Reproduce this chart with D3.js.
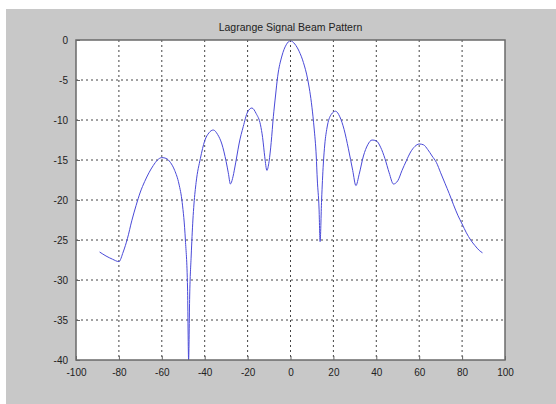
<!DOCTYPE html>
<html lang="en">
<head>
    <meta charset="UTF-8">
    <title>Lagrange Signal Beam Pattern</title>
    <style>
        body { margin: 0; background: #fff; }
        text { font-family: "Liberation Sans", Arial, sans-serif; }
    </style>
</head>
<body>
    <div id="my_dataviz"></div>
    <script src="https://d3js.org/d3.v7.min.js"></script>
    <script>
        // data: angle (deg) and beam level (dB)
        var angles = [-89, -86, -83, -80, -78, -76, -74, -72, -70, -68, -66, -64, -62, -60, -58, -56, -54, -52,
            -50.5, -49, -48, -47.5, -47, -46.3, -45.5, -45, -44, -42, -40, -38, -36, -34, -32, -30, -29, -28,
            -27, -26, -25, -24, -22, -20, -18, -16, -14, -13, -12, -11, -10, -9, -8, -7, -6, -4, -2, 0,
            2, 4, 6, 8, 10, 11, 12, 12.5, 13.3, 13.8, 14.5, 15.3, 16, 17, 19, 21, 23, 25, 27, 29, 30.5,
            32, 34, 36, 38, 40, 42, 44, 46, 48, 50, 52, 54, 56, 58, 60, 62, 64, 66, 68, 70, 72, 74,
            76, 78, 80, 82, 84, 86, 88, 89.5]
        var levels = [-26.5, -27.0, -27.4, -27.7, -26.5, -24.8, -22.6, -20.7, -19.0, -17.7, -16.6, -15.7, -15.0, -14.7, -14.8, -15.3, -16.3, -18.0,
            -20.3, -25, -31, -40, -32, -27, -22.5, -20.5, -17.8, -14.8, -12.6, -11.6, -11.25, -11.8, -13.0, -15.2, -16.6, -18.0,
            -17.3, -16.0, -14.5, -13.0, -10.8, -9.0, -8.5, -9.2, -10.6, -12.2, -14.6, -16.3, -15.2, -12.8, -9.6, -7.0, -4.6, -2.0, -0.6, -0.1,
            -0.5, -1.4, -2.8, -4.9, -8.4, -11.0, -14.5, -17.5, -21.0, -25.2, -20.0, -15.5, -13.0, -11.0, -9.3, -8.9, -9.6, -11.2, -13.6, -16.3, -18.2,
            -16.8, -14.5, -13.1, -12.5, -12.6, -13.4, -14.8, -16.6, -18.0, -17.6, -16.3, -15.1, -14.0, -13.3, -13.0, -13.1, -13.7, -14.5, -15.3, -16.6, -17.9, -19.2,
            -20.6, -21.9, -23.0, -24.1, -25.0, -25.7, -26.3, -26.6]
        var xTicks = [-100, -80, -60, -40, -20, 0, 20, 40, 60, 80, 100]
        var yTicks = [0, -5, -10, -15, -20, -25, -30, -35, -40]
        var title = "Lagrange Signal Beam Pattern"

        var W = 556, H = 404
        var margin = { top: 40, right: 51, bottom: 44, left: 76 },
            width = W - margin.left - margin.right,
            height = H - margin.top - margin.bottom;

        var root = d3.select("#my_dataviz")
            .append("svg")
            .attr("width", W)
            .attr("height", H)

        // grey figure background (white strip at top and left)
        root.append("rect").attr("x", 6).attr("y", 9).attr("width", W - 6).attr("height", H - 9)
            .attr("fill", "#c8c8c8")

        var svg = root.append("g")
            .attr("transform", "translate(" + margin.left + "," + margin.top + ")");

        var x = d3.scaleLinear().domain([-100, 100]).range([0, width]);
        var y = d3.scaleLinear().domain([-40, 0]).range([height, 0]);

        svg.append("rect").attr("width", width).attr("height", height).attr("fill", "#fff")

        // dotted grid
        svg.append("g").selectAll("line")
            .data(xTicks.slice(1, -1))
            .enter().append("line")
            .attr("x1", function (d) { return x(d) }).attr("x2", function (d) { return x(d) })
            .attr("y1", 0).attr("y2", height)
            .attr("stroke", "#444").attr("stroke-width", 1).attr("stroke-dasharray", "2,3")
        svg.append("g").selectAll("line")
            .data(yTicks.slice(1, -1))
            .enter().append("line")
            .attr("y1", function (d) { return y(d) }).attr("y2", function (d) { return y(d) })
            .attr("x1", 0).attr("x2", width)
            .attr("stroke", "#444").attr("stroke-width", 1).attr("stroke-dasharray", "2,3")

        // beam pattern line
        var pts = angles.map(function (a, i) { return [a, levels[i]] })
        svg.append("path")
            .datum(pts)
            .attr("fill", "none")
            .attr("stroke", "#4a4ad8")
            .attr("stroke-width", 1)
            .attr("d", d3.line()
                .curve(d3.curveMonotoneX)
                .x(function (d) { return x(d[0]) })
                .y(function (d) { return y(d[1]) }))

        // axes, ticks pointing inward like matlab, plain hyphen minus
        var fmt = function (d) { return String(d) }
        svg.append("g")
            .attr("transform", "translate(0," + height + ")")
            .call(d3.axisBottom(x).tickValues(xTicks).tickFormat(fmt).tickSize(-4).tickPadding(9))
        svg.append("g")
            .call(d3.axisLeft(y).tickValues(yTicks).tickFormat(fmt).tickSize(-4).tickPadding(8))
        svg.selectAll(".domain").remove()
        svg.selectAll(".tick line").attr("stroke", "#666")
        svg.selectAll(".tick text").attr("fill", "#222").style("font-size", "10px")
            .style("font-family", "'Liberation Sans', Arial, sans-serif")

        // box
        svg.append("rect").attr("width", width).attr("height", height)
            .attr("fill", "none").attr("stroke", "#6a6a6a").attr("stroke-width", 1.5)

        svg.append("text")
            .attr("x", width / 2).attr("y", -9)
            .attr("text-anchor", "middle")
            .style("font-size", "10.5px")
            .attr("fill", "#222")
            .text(title)
    </script>
</body>
</html>
